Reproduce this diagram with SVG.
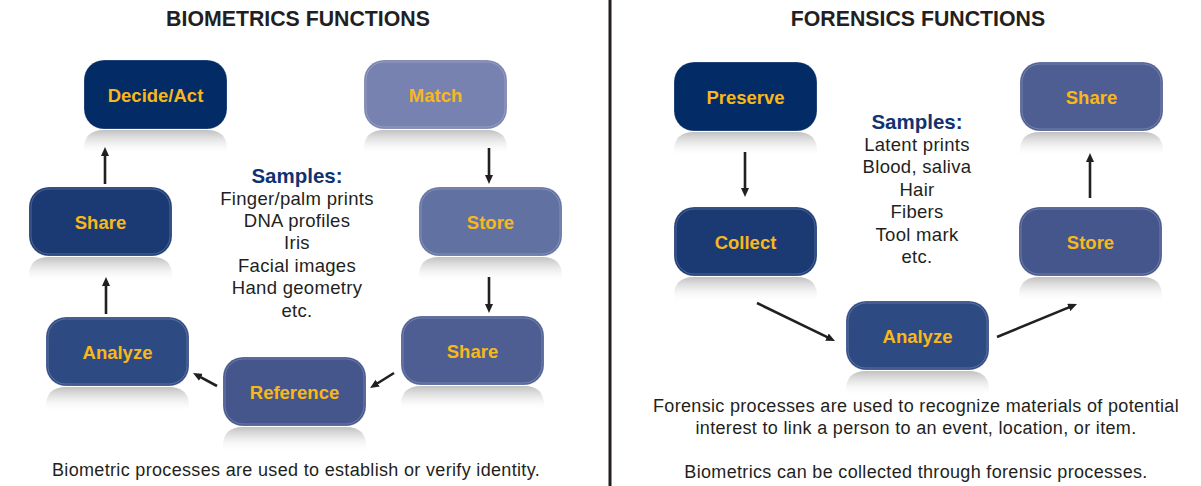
<svg xmlns="http://www.w3.org/2000/svg" width="1201" height="486" viewBox="0 0 1201 486">
<defs>
<style>
.title{font-family:"Liberation Sans",Arial,sans-serif;font-weight:bold;font-size:21.3px;fill:#231f20;text-anchor:middle}
.lbl{font-family:"Liberation Sans",Arial,sans-serif;font-weight:bold;font-size:18.5px;fill:#f8b81a;text-anchor:middle}
.shead{font-family:"Liberation Sans",Arial,sans-serif;font-weight:bold;font-size:20.5px;fill:#0f3372;text-anchor:middle}
.s{font-family:"Liberation Sans",Arial,sans-serif;font-size:18.5px;letter-spacing:0.3px;fill:#231f20;text-anchor:middle}
.note{font-family:"Liberation Sans",Arial,sans-serif;font-size:18px;letter-spacing:0.33px;fill:#231f20;text-anchor:middle}
.box{stroke:#ffffff;stroke-opacity:0.25;stroke-width:1}
.inner{fill:none;stroke:#ffffff;stroke-opacity:0.28;stroke-width:0.8}
.refl{fill:url(#reflg)}
.conn line{stroke:#231f20;stroke-width:2.6;marker-end:url(#ah)}
</style>
<linearGradient id="reflg" x1="0" y1="0" x2="0" y2="1">
<stop offset="0" stop-color="#bdbdbd" stop-opacity="0.95"/>
<stop offset="0.4" stop-color="#dcdcdc" stop-opacity="0.7"/>
<stop offset="1" stop-color="#ffffff" stop-opacity="0"/>
</linearGradient>
<marker id="ah" markerUnits="userSpaceOnUse" viewBox="0 0 9 8" markerWidth="9" markerHeight="8" refX="1.5" refY="4" orient="auto">
<path d="M0,0 L9,4 L0,8 z" fill="#231f20"/>
</marker>
<path id="rf" d="M0,26 L0,20 Q0,1 20,1 L123,1 Q143,1 143,20 L143,26 z"/>
</defs>
<rect x="0" y="0" width="1201" height="486" fill="#ffffff"/>
<line x1="610" y1="0" x2="610" y2="486" stroke="#231f20" stroke-width="3"/>

<text class="title" x="298" y="26">BIOMETRICS FUNCTIONS</text>
<text class="title" x="918" y="26">FORENSICS FUNCTIONS</text>

<g id="bio-samples">
<text class="shead" x="297" y="183">Samples:</text>
<text class="s" x="297" y="205">Finger/palm prints</text>
<text class="s" x="297" y="227">DNA profiles</text>
<text class="s" x="297" y="249">Iris</text>
<text class="s" x="297" y="272">Facial images</text>
<text class="s" x="297" y="294">Hand geometry</text>
<text class="s" x="297" y="317">etc.</text>
</g>
<text class="note" x="296" y="476">Biometric processes are used to establish or verify identity.</text>

<g id="for-samples">
<text class="shead" x="917" y="129">Samples:</text>
<text class="s" x="917" y="151">Latent prints</text>
<text class="s" x="917" y="173">Blood, saliva</text>
<text class="s" x="917" y="196">Hair</text>
<text class="s" x="917" y="218">Fibers</text>
<text class="s" x="917" y="241">Tool mark</text>
<text class="s" x="917" y="263">etc.</text>
</g>
<text class="note" x="916" y="412">Forensic processes are used to recognize materials of potential</text>
<text class="note" x="916" y="434">interest to link a person to an event, location, or item.</text>
<text class="note" x="916" y="478">Biometrics can be collected through forensic processes.</text>

<g id="n-decide" transform="translate(84,60)">
<use href="#rf" class="refl" y="69"/>
<rect class="box" width="143" height="69" rx="20" fill="#032b66"/>
<text class="lbl" x="71.5" y="41.5">Decide/Act</text>
</g>
<g id="n-match" transform="translate(364,60)">
<use href="#rf" class="refl" y="69"/>
<rect class="box" width="143" height="69" rx="20" fill="#7882b0"/>
<rect class="inner" x="2" y="2" width="139" height="65" rx="18"/>
<text class="lbl" x="71.5" y="41.5">Match</text>
</g>
<g id="n-share1" transform="translate(29,187)">
<use href="#rf" class="refl" y="69"/>
<rect class="box" width="143" height="69" rx="20" fill="#1b3a74"/>
<rect class="inner" x="2" y="2" width="139" height="65" rx="18"/>
<text class="lbl" x="71.5" y="41.5">Share</text>
</g>
<g id="n-store1" transform="translate(419,187)">
<use href="#rf" class="refl" y="69"/>
<rect class="box" width="143" height="69" rx="20" fill="#6171a2"/>
<rect class="inner" x="2" y="2" width="139" height="65" rx="18"/>
<text class="lbl" x="71.5" y="41.5">Store</text>
</g>
<g id="n-analyze1" transform="translate(46,317)">
<use href="#rf" class="refl" y="69"/>
<rect class="box" width="143" height="69" rx="20" fill="#2e4a82"/>
<rect class="inner" x="2" y="2" width="139" height="65" rx="18"/>
<text class="lbl" x="71.5" y="41.5">Analyze</text>
</g>
<g id="n-reference" transform="translate(223,357)">
<use href="#rf" class="refl" y="69"/>
<rect class="box" width="143" height="69" rx="20" fill="#45568c"/>
<rect class="inner" x="2" y="2" width="139" height="65" rx="18"/>
<text class="lbl" x="71.5" y="41.5">Reference</text>
</g>
<g id="n-share2" transform="translate(401,316)">
<use href="#rf" class="refl" y="69"/>
<rect class="box" width="143" height="69" rx="20" fill="#4e5e93"/>
<rect class="inner" x="2" y="2" width="139" height="65" rx="18"/>
<text class="lbl" x="71.5" y="41.5">Share</text>
</g>

<g id="n-preserve" transform="translate(674,62)">
<use href="#rf" class="refl" y="69"/>
<rect class="box" width="143" height="69" rx="20" fill="#032b66"/>
<text class="lbl" x="71.5" y="41.5">Preserve</text>
</g>
<g id="n-share3" transform="translate(1020,62)">
<use href="#rf" class="refl" y="69"/>
<rect class="box" width="143" height="69" rx="20" fill="#4e5e93"/>
<rect class="inner" x="2" y="2" width="139" height="65" rx="18"/>
<text class="lbl" x="71.5" y="41.5">Share</text>
</g>
<g id="n-collect" transform="translate(674,207)">
<use href="#rf" class="refl" y="69"/>
<rect class="box" width="143" height="69" rx="20" fill="#1b3a74"/>
<rect class="inner" x="2" y="2" width="139" height="65" rx="18"/>
<text class="lbl" x="71.5" y="41.5">Collect</text>
</g>
<g id="n-store2" transform="translate(1019,207)">
<use href="#rf" class="refl" y="69"/>
<rect class="box" width="143" height="69" rx="20" fill="#45568c"/>
<rect class="inner" x="2" y="2" width="139" height="65" rx="18"/>
<text class="lbl" x="71.5" y="41.5">Store</text>
</g>
<g id="n-analyze2" transform="translate(846,301)">
<use href="#rf" class="refl" y="69"/>
<rect class="box" width="143" height="69" rx="20" fill="#2e4a82"/>
<rect class="inner" x="2" y="2" width="139" height="65" rx="18"/>
<text class="lbl" x="71.5" y="41.5">Analyze</text>
</g>

<g id="connectors" class="conn">
<line x1="105" y1="184" x2="105" y2="154.5"/>
<line x1="489" y1="148" x2="489" y2="176.5"/>
<line x1="489" y1="277" x2="489" y2="305.5"/>
<line x1="106" y1="314" x2="106" y2="284.5"/>
<line x1="394" y1="373" x2="376.4" y2="384"/>
<line x1="217" y1="386" x2="199.6" y2="376.6"/>
<line x1="745" y1="152" x2="745" y2="189.5"/>
<line x1="1090" y1="198" x2="1090" y2="160.5"/>
<line x1="757" y1="303" x2="828.3" y2="337.7"/>
<line x1="997" y1="337" x2="1070.1" y2="306.9"/>
</g>
</svg>
